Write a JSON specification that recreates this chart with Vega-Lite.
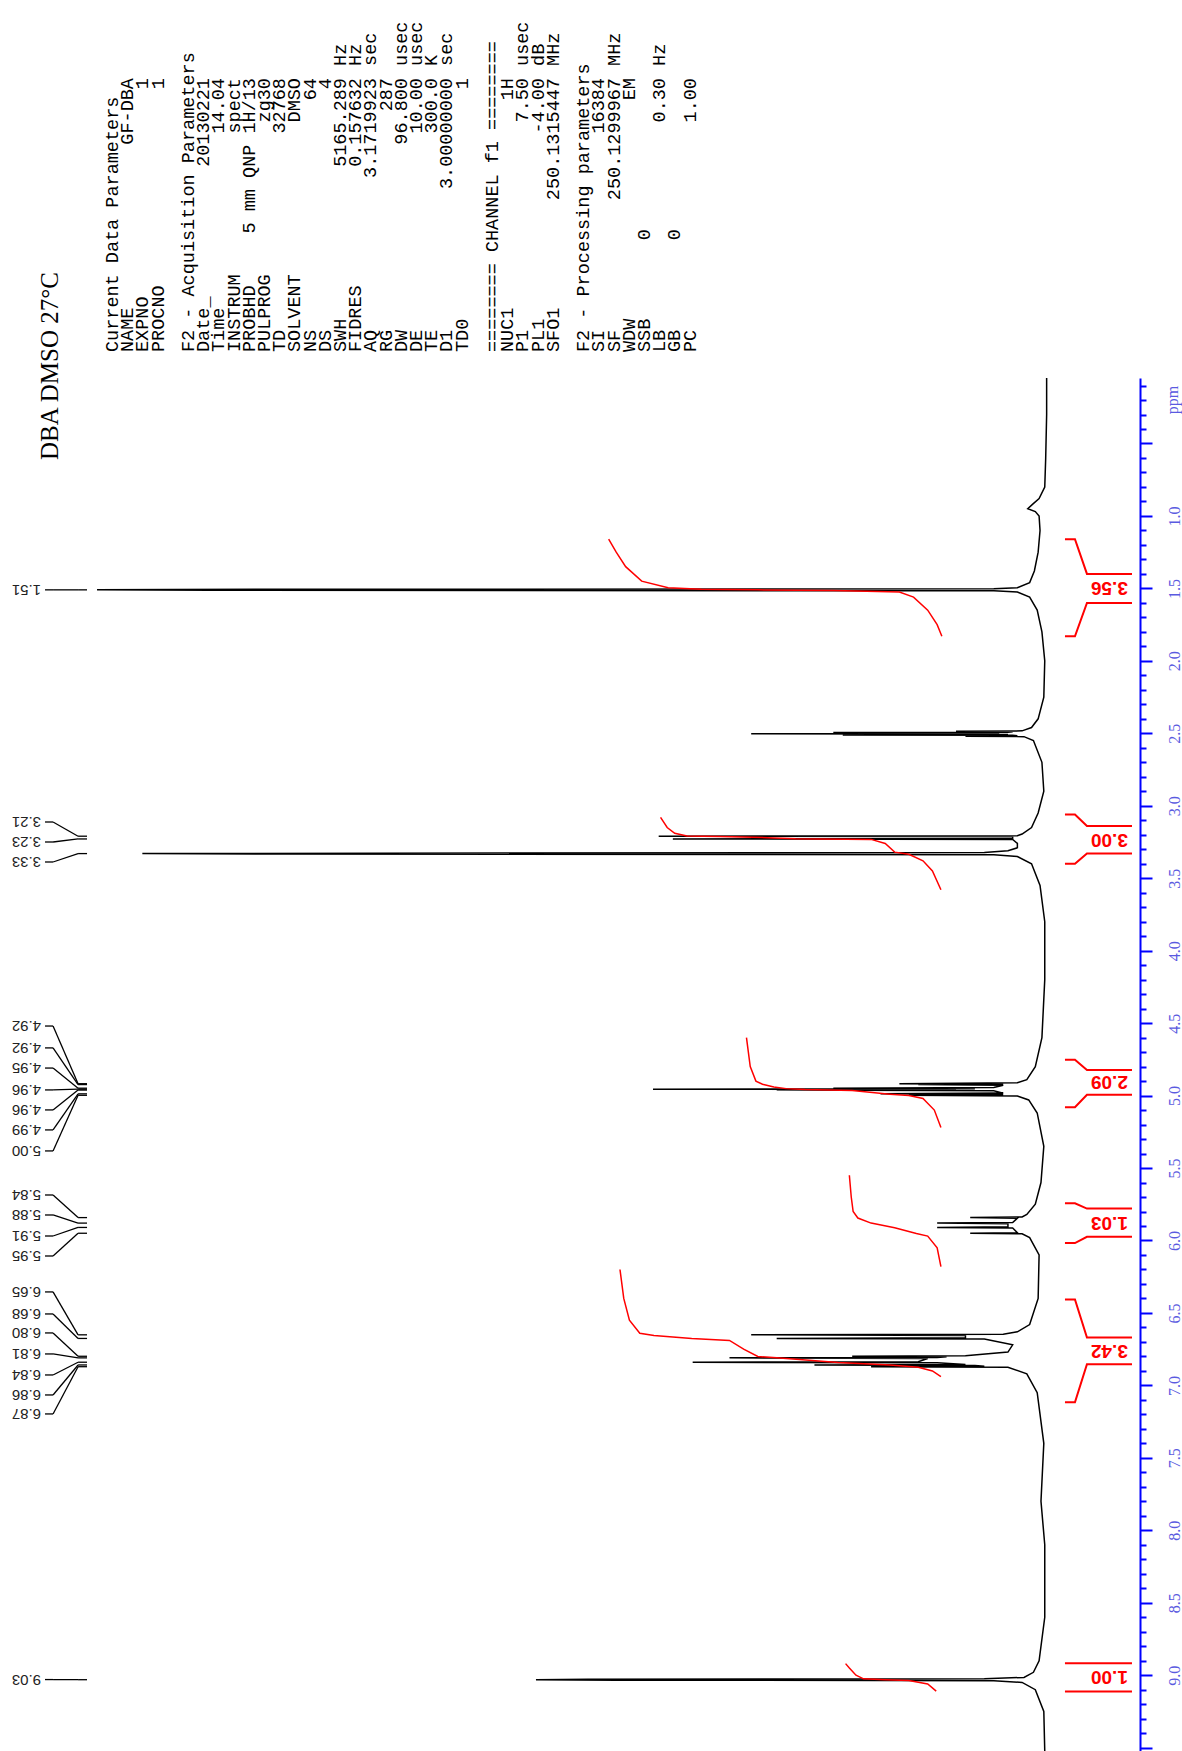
{
  "$schema": "https://vega.github.io/schema/vega-lite/v6.json",
  "padding": 0,
  "spacing": 0,
  "bounds": "flush",
  "background": "white",
  "config": {"view": {"stroke": null}},
  "datasets": {
    "params": [
      {"line": 0, "label": "Current Data Parameters", "value": "", "unit": "", "mid": ""},
      {"line": 1, "label": "NAME", "value": "GF-DBA", "unit": "", "mid": ""},
      {"line": 2, "label": "EXPNO", "value": "1", "unit": "", "mid": ""},
      {"line": 3, "label": "PROCNO", "value": "1", "unit": "", "mid": ""},
      {"line": 5, "label": "F2 - Acquisition Parameters", "value": "", "unit": "", "mid": ""},
      {"line": 6, "label": "Date_", "value": "20130221", "unit": "", "mid": ""},
      {"line": 7, "label": "Time", "value": "14.04", "unit": "", "mid": ""},
      {"line": 8, "label": "INSTRUM", "value": "spect", "unit": "", "mid": ""},
      {"line": 9, "label": "PROBHD", "value": "5 mm QNP 1H/13", "unit": "", "mid": ""},
      {"line": 10, "label": "PULPROG", "value": "zg30", "unit": "", "mid": ""},
      {"line": 11, "label": "TD", "value": "32768", "unit": "", "mid": ""},
      {"line": 12, "label": "SOLVENT", "value": "DMSO", "unit": "", "mid": ""},
      {"line": 13, "label": "NS", "value": "64", "unit": "", "mid": ""},
      {"line": 14, "label": "DS", "value": "4", "unit": "", "mid": ""},
      {"line": 15, "label": "SWH", "value": "5165.289", "unit": "Hz", "mid": ""},
      {"line": 16, "label": "FIDRES", "value": "0.157632", "unit": "Hz", "mid": ""},
      {"line": 17, "label": "AQ", "value": "3.1719923", "unit": "sec", "mid": ""},
      {"line": 18, "label": "RG", "value": "287", "unit": "", "mid": ""},
      {"line": 19, "label": "DW", "value": "96.800", "unit": "usec", "mid": ""},
      {"line": 20, "label": "DE", "value": "10.00", "unit": "usec", "mid": ""},
      {"line": 21, "label": "TE", "value": "300.0", "unit": "K", "mid": ""},
      {"line": 22, "label": "D1", "value": "3.00000000", "unit": "sec", "mid": ""},
      {"line": 23, "label": "TD0", "value": "1", "unit": "", "mid": ""},
      {"line": 25, "label": "======== CHANNEL f1 ========", "value": "", "unit": "", "mid": ""},
      {"line": 26, "label": "NUC1", "value": "1H", "unit": "", "mid": ""},
      {"line": 27, "label": "P1", "value": "7.50", "unit": "usec", "mid": ""},
      {"line": 28, "label": "PL1", "value": "-4.00", "unit": "dB", "mid": ""},
      {"line": 29, "label": "SFO1", "value": "250.1315447", "unit": "MHz", "mid": ""},
      {"line": 31, "label": "F2 - Processing parameters", "value": "", "unit": "", "mid": ""},
      {"line": 32, "label": "SI", "value": "16384", "unit": "", "mid": ""},
      {"line": 33, "label": "SF", "value": "250.1299967", "unit": "MHz", "mid": ""},
      {"line": 34, "label": "WDW", "value": "EM", "unit": "", "mid": ""},
      {"line": 35, "label": "SSB", "value": "", "unit": "", "mid": "0"},
      {"line": 36, "label": "LB", "value": "0.30", "unit": "Hz", "mid": ""},
      {"line": 37, "label": "GB", "value": "", "unit": "", "mid": "0"},
      {"line": 38, "label": "PC", "value": "1.00", "unit": "", "mid": ""}
    ],
    "spectrum": [
      {"ppm": 0.048, "v": -0.6}, {"ppm": 0.3, "v": -0.6}, {"ppm": 0.6, "v": -0.5}, {"ppm": 0.8, "v": -0.4},
      {"ppm": 0.88, "v": 0.2}, {"ppm": 0.92, "v": 0.9}, {"ppm": 0.95, "v": 1.4}, {"ppm": 0.97, "v": 0.6},
      {"ppm": 1.0, "v": 0.2}, {"ppm": 1.1, "v": 0.1}, {"ppm": 1.25, "v": 0.3}, {"ppm": 1.38, "v": 0.7},
      {"ppm": 1.46, "v": 1.2}, {"ppm": 1.495, "v": 2.5}, {"ppm": 1.503, "v": 5}, {"ppm": 1.507, "v": 92},
      {"ppm": 1.51, "v": 100}, {"ppm": 1.513, "v": 88}, {"ppm": 1.517, "v": 5}, {"ppm": 1.525, "v": 2.5},
      {"ppm": 1.56, "v": 1.2}, {"ppm": 1.65, "v": 0.4}, {"ppm": 1.8, "v": -0.1}, {"ppm": 2.0, "v": -0.4},
      {"ppm": 2.25, "v": -0.3}, {"ppm": 2.4, "v": 0.3}, {"ppm": 2.46, "v": 1.0}, {"ppm": 2.483, "v": 2.0},
      {"ppm": 2.486, "v": 9}, {"ppm": 2.489, "v": 3}, {"ppm": 2.492, "v": 3.5}, {"ppm": 2.495, "v": 22},
      {"ppm": 2.498, "v": 4.5}, {"ppm": 2.5, "v": 4.5}, {"ppm": 2.503, "v": 30.7}, {"ppm": 2.506, "v": 4.5},
      {"ppm": 2.508, "v": 3.5}, {"ppm": 2.511, "v": 21}, {"ppm": 2.514, "v": 3}, {"ppm": 2.517, "v": 2.5},
      {"ppm": 2.52, "v": 8}, {"ppm": 2.523, "v": 1.8}, {"ppm": 2.55, "v": 0.8}, {"ppm": 2.7, "v": -0.1},
      {"ppm": 2.9, "v": -0.3}, {"ppm": 3.05, "v": 0.3}, {"ppm": 3.15, "v": 1.0}, {"ppm": 3.195, "v": 2},
      {"ppm": 3.207, "v": 2.5}, {"ppm": 3.21, "v": 40.5}, {"ppm": 3.213, "v": 3}, {"ppm": 3.226, "v": 3},
      {"ppm": 3.229, "v": 39}, {"ppm": 3.232, "v": 3}, {"ppm": 3.26, "v": 2.5}, {"ppm": 3.29, "v": 2.5},
      {"ppm": 3.31, "v": 3.5}, {"ppm": 3.322, "v": 6}, {"ppm": 3.327, "v": 70}, {"ppm": 3.33, "v": 95.2},
      {"ppm": 3.333, "v": 80}, {"ppm": 3.338, "v": 5}, {"ppm": 3.35, "v": 2.5}, {"ppm": 3.4, "v": 1.0},
      {"ppm": 3.55, "v": 0.1}, {"ppm": 3.8, "v": -0.4}, {"ppm": 4.2, "v": -0.4}, {"ppm": 4.6, "v": -0.1},
      {"ppm": 4.8, "v": 0.6}, {"ppm": 4.89, "v": 1.5}, {"ppm": 4.912, "v": 2.5}, {"ppm": 4.918, "v": 15},
      {"ppm": 4.921, "v": 4}, {"ppm": 4.924, "v": 13}, {"ppm": 4.928, "v": 4}, {"ppm": 4.944, "v": 5},
      {"ppm": 4.949, "v": 22}, {"ppm": 4.952, "v": 7}, {"ppm": 4.956, "v": 41.1}, {"ppm": 4.959, "v": 9},
      {"ppm": 4.962, "v": 28}, {"ppm": 4.966, "v": 5}, {"ppm": 4.983, "v": 4}, {"ppm": 4.988, "v": 17},
      {"ppm": 4.992, "v": 4}, {"ppm": 4.998, "v": 14}, {"ppm": 5.003, "v": 2.5}, {"ppm": 5.03, "v": 1.3},
      {"ppm": 5.12, "v": 0.4}, {"ppm": 5.35, "v": -0.3}, {"ppm": 5.6, "v": 0.0}, {"ppm": 5.75, "v": 0.6},
      {"ppm": 5.82, "v": 1.5}, {"ppm": 5.838, "v": 2}, {"ppm": 5.842, "v": 7.5}, {"ppm": 5.846, "v": 2.5},
      {"ppm": 5.876, "v": 3}, {"ppm": 5.88, "v": 11}, {"ppm": 5.884, "v": 3.5}, {"ppm": 5.906, "v": 3.5},
      {"ppm": 5.91, "v": 11}, {"ppm": 5.914, "v": 3}, {"ppm": 5.946, "v": 2.5}, {"ppm": 5.95, "v": 7.5},
      {"ppm": 5.954, "v": 2}, {"ppm": 5.98, "v": 1.2}, {"ppm": 6.1, "v": 0.2}, {"ppm": 6.4, "v": 0.3},
      {"ppm": 6.58, "v": 1.2}, {"ppm": 6.63, "v": 2.5}, {"ppm": 6.647, "v": 4}, {"ppm": 6.651, "v": 30.7},
      {"ppm": 6.655, "v": 8}, {"ppm": 6.672, "v": 8}, {"ppm": 6.676, "v": 28}, {"ppm": 6.68, "v": 6},
      {"ppm": 6.72, "v": 3}, {"ppm": 6.77, "v": 3.5}, {"ppm": 6.795, "v": 8}, {"ppm": 6.799, "v": 20},
      {"ppm": 6.803, "v": 10}, {"ppm": 6.807, "v": 11}, {"ppm": 6.81, "v": 33}, {"ppm": 6.814, "v": 12},
      {"ppm": 6.836, "v": 13}, {"ppm": 6.84, "v": 36.9}, {"ppm": 6.844, "v": 11}, {"ppm": 6.855, "v": 8},
      {"ppm": 6.859, "v": 24}, {"ppm": 6.862, "v": 7}, {"ppm": 6.868, "v": 6}, {"ppm": 6.871, "v": 18},
      {"ppm": 6.875, "v": 3.5}, {"ppm": 6.92, "v": 1.5}, {"ppm": 7.05, "v": 0.4}, {"ppm": 7.4, "v": -0.3},
      {"ppm": 7.8, "v": 0.0}, {"ppm": 8.1, "v": -0.4}, {"ppm": 8.6, "v": -0.4}, {"ppm": 8.9, "v": 0.2},
      {"ppm": 8.98, "v": 0.8}, {"ppm": 9.015, "v": 1.8}, {"ppm": 9.025, "v": 6}, {"ppm": 9.028, "v": 48},
      {"ppm": 9.031, "v": 53.5}, {"ppm": 9.034, "v": 45}, {"ppm": 9.038, "v": 5}, {"ppm": 9.05, "v": 2},
      {"ppm": 9.1, "v": 0.6}, {"ppm": 9.25, "v": -0.3}, {"ppm": 9.523, "v": -0.4}
    ],
    "integrals": [
      {"r": 1, "ppm": 1.83, "v": 10.5}, {"r": 1, "ppm": 1.75, "v": 11.0}, {"r": 1, "ppm": 1.65, "v": 12.0},
      {"r": 1, "ppm": 1.56, "v": 13.5}, {"r": 1, "ppm": 1.525, "v": 15}, {"r": 1, "ppm": 1.515, "v": 22},
      {"r": 1, "ppm": 1.51, "v": 30}, {"r": 1, "ppm": 1.505, "v": 36}, {"r": 1, "ppm": 1.495, "v": 39.5},
      {"r": 1, "ppm": 1.45, "v": 42.3}, {"r": 1, "ppm": 1.35, "v": 44}, {"r": 1, "ppm": 1.25, "v": 45},
      {"r": 1, "ppm": 1.16, "v": 45.8},
      {"r": 2, "ppm": 3.58, "v": 10.6}, {"r": 2, "ppm": 3.45, "v": 11.5}, {"r": 2, "ppm": 3.38, "v": 12.5},
      {"r": 2, "ppm": 3.335, "v": 14}, {"r": 2, "ppm": 3.32, "v": 15.5}, {"r": 2, "ppm": 3.26, "v": 16.5},
      {"r": 2, "ppm": 3.232, "v": 18}, {"r": 2, "ppm": 3.228, "v": 26}, {"r": 2, "ppm": 3.22, "v": 29},
      {"r": 2, "ppm": 3.212, "v": 34}, {"r": 2, "ppm": 3.208, "v": 37.5}, {"r": 2, "ppm": 3.19, "v": 38.8},
      {"r": 2, "ppm": 3.15, "v": 39.6}, {"r": 2, "ppm": 3.08, "v": 40.3},
      {"r": 3, "ppm": 5.22, "v": 10.6}, {"r": 3, "ppm": 5.1, "v": 11.3}, {"r": 3, "ppm": 5.02, "v": 12.5},
      {"r": 3, "ppm": 5.0, "v": 14}, {"r": 3, "ppm": 4.99, "v": 16}, {"r": 3, "ppm": 4.965, "v": 20},
      {"r": 3, "ppm": 4.958, "v": 25}, {"r": 3, "ppm": 4.952, "v": 27}, {"r": 3, "ppm": 4.94, "v": 28.3},
      {"r": 3, "ppm": 4.922, "v": 29.5}, {"r": 3, "ppm": 4.9, "v": 30.2}, {"r": 3, "ppm": 4.8, "v": 30.8},
      {"r": 3, "ppm": 4.6, "v": 31.2},
      {"r": 4, "ppm": 6.18, "v": 10.6}, {"r": 4, "ppm": 6.05, "v": 11}, {"r": 4, "ppm": 5.97, "v": 12},
      {"r": 4, "ppm": 5.952, "v": 13.2}, {"r": 4, "ppm": 5.912, "v": 15.5}, {"r": 4, "ppm": 5.88, "v": 18},
      {"r": 4, "ppm": 5.845, "v": 19.4}, {"r": 4, "ppm": 5.8, "v": 19.9}, {"r": 4, "ppm": 5.7, "v": 20.1},
      {"r": 4, "ppm": 5.55, "v": 20.3},
      {"r": 5, "ppm": 6.94, "v": 10.6}, {"r": 5, "ppm": 6.9, "v": 11.5}, {"r": 5, "ppm": 6.875, "v": 13},
      {"r": 5, "ppm": 6.86, "v": 16}, {"r": 5, "ppm": 6.842, "v": 21.5}, {"r": 5, "ppm": 6.81, "v": 28},
      {"r": 5, "ppm": 6.8, "v": 30}, {"r": 5, "ppm": 6.75, "v": 31.5}, {"r": 5, "ppm": 6.69, "v": 33},
      {"r": 5, "ppm": 6.676, "v": 37}, {"r": 5, "ppm": 6.655, "v": 41}, {"r": 5, "ppm": 6.64, "v": 42.5},
      {"r": 5, "ppm": 6.55, "v": 43.6}, {"r": 5, "ppm": 6.4, "v": 44.2}, {"r": 5, "ppm": 6.2, "v": 44.6},
      {"r": 6, "ppm": 9.11, "v": 11.1}, {"r": 6, "ppm": 9.06, "v": 12}, {"r": 6, "ppm": 9.036, "v": 14},
      {"r": 6, "ppm": 9.031, "v": 16.5}, {"r": 6, "ppm": 9.025, "v": 18.8}, {"r": 6, "ppm": 9.0, "v": 19.6},
      {"r": 6, "ppm": 8.95, "v": 20.3}, {"r": 6, "ppm": 8.92, "v": 20.7}
    ],
    "brackets": [
      {"s": "1a", "k": 0, "ppm": 1.16, "v": -2.54}, {"s": "1a", "k": 1, "ppm": 1.16, "v": -3.6}, {"s": "1a", "k": 2, "ppm": 1.4, "v": -4.87}, {"s": "1a", "k": 3, "ppm": 1.4, "v": -9.64},
      {"s": "1b", "k": 0, "ppm": 1.83, "v": -2.54}, {"s": "1b", "k": 1, "ppm": 1.83, "v": -3.6}, {"s": "1b", "k": 2, "ppm": 1.6, "v": -4.87}, {"s": "1b", "k": 3, "ppm": 1.6, "v": -9.64},
      {"s": "2a", "k": 0, "ppm": 3.06, "v": -2.54}, {"s": "2a", "k": 1, "ppm": 3.06, "v": -3.6}, {"s": "2a", "k": 2, "ppm": 3.14, "v": -4.87}, {"s": "2a", "k": 3, "ppm": 3.14, "v": -9.64},
      {"s": "2b", "k": 0, "ppm": 3.4, "v": -2.54}, {"s": "2b", "k": 1, "ppm": 3.4, "v": -3.6}, {"s": "2b", "k": 2, "ppm": 3.33, "v": -4.87}, {"s": "2b", "k": 3, "ppm": 3.33, "v": -9.64},
      {"s": "3a", "k": 0, "ppm": 4.753, "v": -2.54}, {"s": "3a", "k": 1, "ppm": 4.753, "v": -3.6}, {"s": "3a", "k": 2, "ppm": 4.823, "v": -4.87}, {"s": "3a", "k": 3, "ppm": 4.823, "v": -9.64},
      {"s": "3b", "k": 0, "ppm": 5.08, "v": -2.54}, {"s": "3b", "k": 1, "ppm": 5.08, "v": -3.6}, {"s": "3b", "k": 2, "ppm": 4.994, "v": -4.87}, {"s": "3b", "k": 3, "ppm": 4.994, "v": -9.64},
      {"s": "4a", "k": 0, "ppm": 5.743, "v": -2.54}, {"s": "4a", "k": 1, "ppm": 5.743, "v": -3.6}, {"s": "4a", "k": 2, "ppm": 5.78, "v": -4.87}, {"s": "4a", "k": 3, "ppm": 5.78, "v": -9.64},
      {"s": "4b", "k": 0, "ppm": 6.018, "v": -2.54}, {"s": "4b", "k": 1, "ppm": 6.018, "v": -3.6}, {"s": "4b", "k": 2, "ppm": 5.975, "v": -4.87}, {"s": "4b", "k": 3, "ppm": 5.975, "v": -9.64},
      {"s": "5a", "k": 0, "ppm": 6.407, "v": -2.54}, {"s": "5a", "k": 1, "ppm": 6.407, "v": -3.6}, {"s": "5a", "k": 2, "ppm": 6.669, "v": -4.87}, {"s": "5a", "k": 3, "ppm": 6.669, "v": -9.64},
      {"s": "5b", "k": 0, "ppm": 7.117, "v": -2.54}, {"s": "5b", "k": 1, "ppm": 7.117, "v": -3.6}, {"s": "5b", "k": 2, "ppm": 6.854, "v": -4.87}, {"s": "5b", "k": 3, "ppm": 6.854, "v": -9.64},
      {"s": "6a", "k": 0, "ppm": 8.918, "v": -2.54}, {"s": "6a", "k": 1, "ppm": 8.918, "v": -9.64},
      {"s": "6b", "k": 0, "ppm": 9.113, "v": -2.54}, {"s": "6b", "k": 1, "ppm": 9.113, "v": -9.64}
    ],
    "intlabels": [
      {"ppm": 1.5, "label": "3.56"}, {"ppm": 3.235, "label": "3.00"}, {"ppm": 4.908, "label": "2.09"},
      {"ppm": 5.877, "label": "1.03"}, {"ppm": 6.76, "label": "3.42"}, {"ppm": 9.015, "label": "1.00"}
    ],
    "peaks": [
      {"label": "1.51", "lpos": 1.51, "peak": 1.51},
      {"label": "3.21", "lpos": 3.112, "peak": 3.21},
      {"label": "3.23", "lpos": 3.25, "peak": 3.229},
      {"label": "3.33", "lpos": 3.388, "peak": 3.33},
      {"label": "4.92", "lpos": 4.52, "peak": 4.918},
      {"label": "4.92", "lpos": 4.671, "peak": 4.924},
      {"label": "4.95", "lpos": 4.81, "peak": 4.949},
      {"label": "4.96", "lpos": 4.961, "peak": 4.956},
      {"label": "4.96", "lpos": 5.099, "peak": 4.962},
      {"label": "4.99", "lpos": 5.237, "peak": 4.988},
      {"label": "5.00", "lpos": 5.382, "peak": 4.998},
      {"label": "5.84", "lpos": 5.686, "peak": 5.842},
      {"label": "5.88", "lpos": 5.824, "peak": 5.88},
      {"label": "5.91", "lpos": 5.969, "peak": 5.91},
      {"label": "5.95", "lpos": 6.107, "peak": 5.95},
      {"label": "6.65", "lpos": 6.355, "peak": 6.651},
      {"label": "6.68", "lpos": 6.507, "peak": 6.676},
      {"label": "6.80", "lpos": 6.638, "peak": 6.799},
      {"label": "6.81", "lpos": 6.783, "peak": 6.81},
      {"label": "6.84", "lpos": 6.928, "peak": 6.84},
      {"label": "6.86", "lpos": 7.066, "peak": 6.859},
      {"label": "6.87", "lpos": 7.197, "peak": 6.871},
      {"label": "9.03", "lpos": 9.03, "peak": 9.031}
    ]
  },
  "vconcat": [
    {
      "width": 1140,
      "height": 378,
      "layer": [
        {
          "data": {"name": "params"},
          "mark": {"type": "text", "angle": 270, "align": "left", "baseline": "middle", "font": "Liberation Mono", "fontSize": 18.5, "color": "#000"},
          "encoding": {
            "x": {"field": "line", "type": "quantitative", "scale": {"domain": [-7.368, 67.632], "nice": false, "zero": false}, "axis": null},
            "y": {"datum": 0, "type": "quantitative", "scale": {"domain": [-2.149, 29.09], "nice": false, "zero": false}, "axis": null},
            "text": {"field": "label"}
          }
        },
        {
          "data": {"name": "params"},
          "mark": {"type": "text", "angle": 270, "align": "right", "baseline": "middle", "font": "Liberation Mono", "fontSize": 18.5, "color": "#000"},
          "encoding": {
            "x": {"field": "line", "type": "quantitative", "scale": {"domain": [-7.368, 67.632], "nice": false, "zero": false}, "axis": null},
            "y": {"datum": 22.64, "type": "quantitative", "scale": {"domain": [-2.149, 29.09], "nice": false, "zero": false}, "axis": null},
            "text": {"field": "value"}
          }
        },
        {
          "data": {"name": "params"},
          "mark": {"type": "text", "angle": 270, "align": "left", "baseline": "middle", "font": "Liberation Mono", "fontSize": 18.5, "color": "#000"},
          "encoding": {
            "x": {"field": "line", "type": "quantitative", "scale": {"domain": [-7.368, 67.632], "nice": false, "zero": false}, "axis": null},
            "y": {"datum": 23.64, "type": "quantitative", "scale": {"domain": [-2.149, 29.09], "nice": false, "zero": false}, "axis": null},
            "text": {"field": "unit"}
          }
        },
        {
          "data": {"name": "params"},
          "mark": {"type": "text", "angle": 270, "align": "center", "baseline": "middle", "font": "Liberation Mono", "fontSize": 18.5, "color": "#000"},
          "encoding": {
            "x": {"field": "line", "type": "quantitative", "scale": {"domain": [-7.368, 67.632], "nice": false, "zero": false}, "axis": null},
            "y": {"datum": 9.7, "type": "quantitative", "scale": {"domain": [-2.149, 29.09], "nice": false, "zero": false}, "axis": null},
            "text": {"field": "mid"}
          }
        },
        {
          "data": {"values": [{"title": "DBA DMSO 27°C"}]},
          "mark": {"type": "text", "angle": 270, "align": "center", "baseline": "middle", "font": "Liberation Serif", "fontSize": 25, "color": "#000"},
          "encoding": {
            "x": {"datum": -4.08, "type": "quantitative", "scale": {"domain": [-7.368, 67.632], "nice": false, "zero": false}, "axis": null},
            "y": {"datum": -1.16, "type": "quantitative", "scale": {"domain": [-2.149, 29.09], "nice": false, "zero": false}, "axis": null},
            "text": {"field": "title"}
          }
        }
      ]
    },
    {
      "width": 1140,
      "height": 1373,
      "layer": [
        {
          "data": {"name": "spectrum"},
          "mark": {"type": "line", "color": "#000", "strokeWidth": 1.5, "interpolate": "linear"},
          "encoding": {
            "x": {"field": "v", "type": "quantitative", "scale": {"domain": [-10.49, 110.28], "reverse": true, "nice": false, "zero": false}, "axis": null},
            "y": {
              "field": "ppm", "type": "quantitative",
              "scale": {"domain": [0.048, 9.523], "reverse": true, "nice": false, "zero": false},
              "axis": {
                "orient": "right", "title": null, "grid": false,
                "tickCount": 95,
                "domainColor": "#0000ff", "domainWidth": 2,
                "tickColor": "#0000ff", "tickWidth": 2,
                "tickSize": {"condition": {"test": "abs(datum.value*2 - round(datum.value*2)) < 0.001", "value": 12}, "value": 6},
                "labelExpr": "(abs(datum.value*2 - round(datum.value*2)) < 0.001 && datum.value > 0.99 && datum.value < 9.4) ? format(datum.value, '.1f') : ''",
                "labelAngle": 270, "labelAlign": "center", "labelBaseline": "top",
                "labelPadding": 14, "labelOverlap": false, "labelBound": false, "labelFlush": false,
                "labelFont": "Liberation Serif", "labelFontSize": 16, "labelColor": "#5a5ae0"
              }
            },
            "order": {"field": "ppm", "type": "quantitative"}
          }
        },
        {
          "data": {"name": "integrals"},
          "mark": {"type": "line", "color": "#ff0000", "strokeWidth": 1.5},
          "encoding": {
            "x": {"field": "v", "type": "quantitative", "scale": {"domain": [-10.49, 110.28], "reverse": true, "nice": false, "zero": false}, "axis": null},
            "y": {"field": "ppm", "type": "quantitative", "scale": {"domain": [0.048, 9.523], "reverse": true, "nice": false, "zero": false}},
            "detail": {"field": "r", "type": "nominal"},
            "order": {"field": "ppm", "type": "quantitative"}
          }
        },
        {
          "data": {"name": "brackets"},
          "mark": {"type": "line", "color": "#ff0000", "strokeWidth": 2},
          "encoding": {
            "x": {"field": "v", "type": "quantitative", "scale": {"domain": [-10.49, 110.28], "reverse": true, "nice": false, "zero": false}, "axis": null},
            "y": {"field": "ppm", "type": "quantitative", "scale": {"domain": [0.048, 9.523], "reverse": true, "nice": false, "zero": false}},
            "detail": {"field": "s", "type": "nominal"},
            "order": {"field": "k", "type": "quantitative"}
          }
        },
        {
          "data": {"name": "intlabels"},
          "mark": {"type": "text", "angle": 180, "align": "center", "baseline": "middle", "font": "Liberation Sans", "fontWeight": "bold", "fontSize": 19, "color": "#ff0000"},
          "encoding": {
            "x": {"datum": -7.25, "type": "quantitative", "scale": {"domain": [-10.49, 110.28], "reverse": true, "nice": false, "zero": false}, "axis": null},
            "y": {"field": "ppm", "type": "quantitative", "scale": {"domain": [0.048, 9.523], "reverse": true, "nice": false, "zero": false}},
            "text": {"field": "label"}
          }
        },
        {
          "data": {"name": "peaks"},
          "mark": {"type": "text", "angle": 180, "align": "left", "baseline": "middle", "font": "Liberation Sans", "fontSize": 15, "color": "#222"},
          "encoding": {
            "x": {"datum": 105.93, "type": "quantitative", "scale": {"domain": [-10.49, 110.28], "reverse": true, "nice": false, "zero": false}, "axis": null},
            "y": {"field": "lpos", "type": "quantitative", "scale": {"domain": [0.048, 9.523], "reverse": true, "nice": false, "zero": false}},
            "text": {"field": "label"}
          }
        },
        {
          "data": {"name": "peaks"},
          "mark": {"type": "rule", "color": "#000", "strokeWidth": 1.3},
          "encoding": {
            "x": {"datum": 105.51, "type": "quantitative", "scale": {"domain": [-10.49, 110.28], "reverse": true, "nice": false, "zero": false}, "axis": null},
            "x2": {"datum": 104.66},
            "y": {"field": "lpos", "type": "quantitative", "scale": {"domain": [0.048, 9.523], "reverse": true, "nice": false, "zero": false}},
            "y2": {"field": "lpos"}
          }
        },
        {
          "data": {"name": "peaks"},
          "mark": {"type": "rule", "color": "#000", "strokeWidth": 1.3},
          "encoding": {
            "x": {"datum": 104.66, "type": "quantitative", "scale": {"domain": [-10.49, 110.28], "reverse": true, "nice": false, "zero": false}, "axis": null},
            "x2": {"datum": 102.01},
            "y": {"field": "lpos", "type": "quantitative", "scale": {"domain": [0.048, 9.523], "reverse": true, "nice": false, "zero": false}},
            "y2": {"field": "peak"}
          }
        },
        {
          "data": {"name": "peaks"},
          "mark": {"type": "rule", "color": "#000", "strokeWidth": 1.3},
          "encoding": {
            "x": {"datum": 102.01, "type": "quantitative", "scale": {"domain": [-10.49, 110.28], "reverse": true, "nice": false, "zero": false}, "axis": null},
            "x2": {"datum": 101.06},
            "y": {"field": "peak", "type": "quantitative", "scale": {"domain": [0.048, 9.523], "reverse": true, "nice": false, "zero": false}},
            "y2": {"field": "peak"}
          }
        },
        {
          "data": {"values": [{"t": "ppm"}]},
          "mark": {"type": "text", "angle": 270, "align": "center", "baseline": "middle", "font": "Liberation Serif", "fontSize": 16, "color": "#5a5ae0"},
          "encoding": {
            "x": {"datum": -13.98, "type": "quantitative", "scale": {"domain": [-10.49, 110.28], "reverse": true, "nice": false, "zero": false}, "axis": null},
            "y": {"datum": 0.2, "type": "quantitative", "scale": {"domain": [0.048, 9.523], "reverse": true, "nice": false, "zero": false}},
            "text": {"field": "t"}
          }
        }
      ]
    }
  ]
}
